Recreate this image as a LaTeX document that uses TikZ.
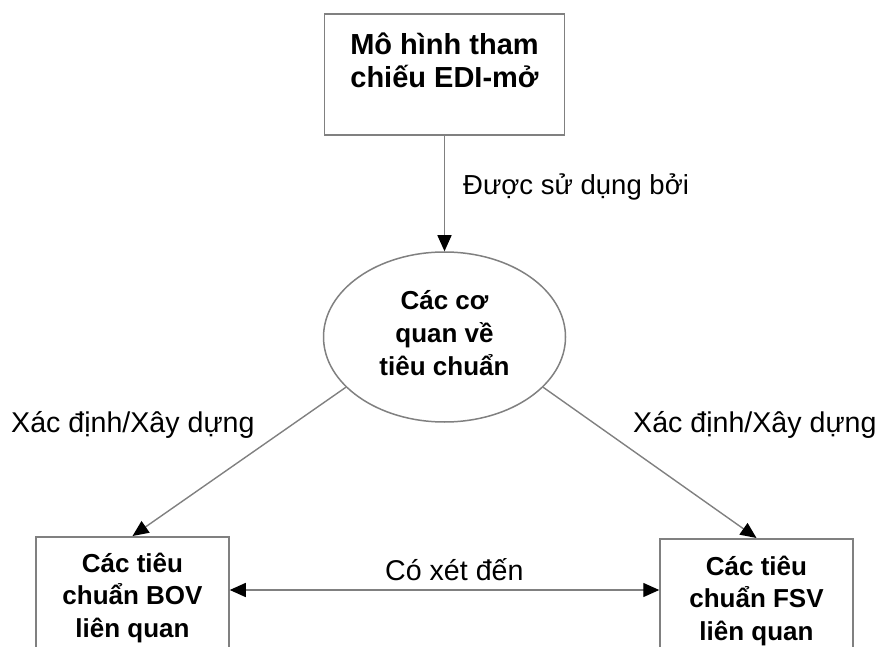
\documentclass[tikz,border=0pt]{standalone}
\usepackage{fontspec}
\setmainfont{Liberation Sans}
\usetikzlibrary{arrows.meta,shapes.geometric}
\definecolor{edge}{HTML}{808080}
\tikzset{
  x=1pt, y=1pt,
  shapebox/.style={draw=edge, line width=1.5pt, rectangle, inner sep=0pt},
  bubble/.style={draw=edge, line width=1.5pt, ellipse, inner sep=0pt,
    minimum width=242pt, minimum height=170pt},
  titletext/.style={align=center, anchor=base, inner sep=0pt,
    font=\bfseries\fontsize{29}{33}\selectfont},
  bodytext/.style={align=center, anchor=base, inner sep=0pt,
    font=\bfseries\fontsize{26}{32.5}\selectfont},
  linktext/.style={anchor=base west, inner sep=0pt,
    font=\fontsize{28.6}{32}\selectfont},
  tip/.style={Triangle[length=16pt,width=14pt,color=black]},
  link/.style={draw=edge, line width=1.4pt, -{Triangle[length=16pt,width=14pt,color=black]}},
  twoway/.style={draw=edge, line width=1.4pt,
    {Triangle[length=16pt,width=14pt,color=black]}-{Triangle[length=16pt,width=14pt,color=black]}},
}
\begin{document}
\begin{tikzpicture}
\useasboundingbox (0,0) rectangle (880,646);

% reference model box (text placed by the baseline of its last line)
\node[shapebox, minimum width=240pt, minimum height=121pt] (model) at (444.5,571.5) {};
\node[titletext] (modeltext) at (444.5,558) {Mô hình tham\\chiếu EDI-mở};

% standards bodies
\node[bubble] (bodies) at (444.5,309) {};
\node[bodytext] (bodiestext) at (444.5,271) {Các cơ\\quan về\\tiêu chuẩn};

% lower standards boxes (run past the bottom edge)
\node[shapebox, minimum width=193pt, minimum height=140pt, anchor=north] (bov) at (132.5,110) {};
\node[bodytext] (bovtext) at (132.5,9) {Các tiêu\\chuẩn BOV\\liên quan};
\node[shapebox, minimum width=193pt, minimum height=140pt, anchor=north] (fsv) at (756.5,108) {};
\node[bodytext] (fsvtext) at (756.5,6) {Các tiêu\\chuẩn FSV\\liên quan};

% connectors
\draw[link] (model.south) -- (bodies.north);
\draw[link] (bodies.207) -- (bov.north);
\draw[link] (bodies.333) -- (fsv.north);
\coordinate (between) at (445,56);
\draw[twoway] (bov.east |- between) -- (fsv.west |- between);

% connector labels
\node[linktext, font=\fontsize{27.5}{32}\selectfont] (usedby) at (463,451) {Được sử dụng bởi};
\node[linktext] (defleft) at (11,214) {Xác định/Xây dựng};
\node[linktext] (defright) at (633,214) {Xác định/Xây dựng};
\node[linktext] (regard) at (385,66) {Có xét đến};
\end{tikzpicture}
\end{document}
